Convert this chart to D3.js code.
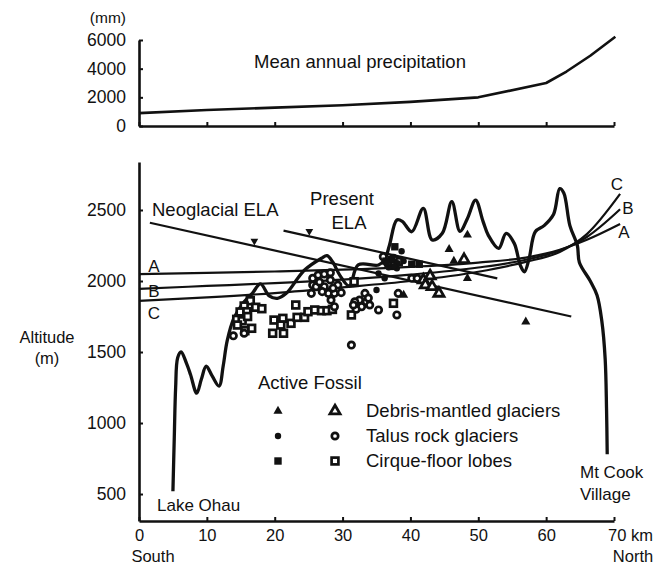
<!DOCTYPE html>
<html><head><meta charset="utf-8">
<script src="https://cdn.jsdelivr.net/npm/d3@7"></script>
<style>
body{margin:0;background:#fff;}
svg{display:block;background:#fff;}
text{font-family:"Liberation Sans",Arial,Helvetica,sans-serif;fill:#111;}
</style></head><body>
<svg id="c" width="659" height="566"></svg>
<script>
// ---- data ----
const kmTicks = [0,10,20,30,40,50,60,70];
const precipTicks = [0,2000,4000,6000];
const altTicks = [500,1000,1500,2000,2500];

const precipKm = [0,10,20,30,40,50,60,63,66.5,70.2];
const precipMm = [900,1120,1280,1450,1680,2000,3000,3800,4900,6230];

const topoKm  = [5.0,5.2,5.4,5.7,6.2,7.0,7.6,8.5,9.2,9.9,10.8,11.8,12.4,13.0,14.0,15.5,16.7,17.9,19.2,20.4,21.7,23.4,24.4,26.9,27.7,28.6,29.6,31.0,32.3,35.3,36.2,36.9,38.0,38.8,40.2,41.9,43.2,44.7,46.1,47.3,48.4,49.6,50.7,51.5,53.0,54.1,55.3,56.2,56.8,57.5,58.4,59.7,61.1,62.0,62.6,63.5,64.6,64.9,66.5,67.5,68.2,68.7,68.9,69.0];
const topoAlt = [520,900,1250,1460,1500,1420,1340,1210,1310,1400,1330,1260,1400,1580,1740,1854,1913,1980,1895,1878,1913,2019,2077,2160,2178,2130,2040,1965,2113,2113,2150,2250,2430,2420,2347,2512,2289,2336,2559,2350,2440,2570,2420,2320,2230,2336,2265,2110,2065,2160,2347,2390,2470,2650,2620,2390,2250,2130,2000,1900,1720,1450,1100,780];

const lineKm = [0,10,20,30,40,50,57,62,66,70.9];
const lineA = [2049,2057,2067,2080,2100,2130,2165,2220,2290,2401];
const lineB = [1945,1965,1985,2010,2045,2095,2150,2215,2310,2505];
const lineC = [1860,1885,1915,1955,2000,2065,2135,2205,2330,2613];

const neoELA = [[1.6,2410],[63.7,1750]];
const presentELA = [[21.3,2355],[52.8,2019]];

const activeDebris = [[45.7,2223],[48.4,2324],[46.4,2140],[48.4,2019],[57.0,1713],[39.0,1901]];
const fossilDebris = [[41.9,2007],[42.9,2035],[42.2,1972],[43.2,1960],[44.2,1913],[47.9,2150]];
const activeTalus = [[35.0,1937],[38.7,2210],[36.8,2097],[38.0,2089],[35.3,2054],[36.2,2019],[38.1,2125],[36.5,2125],[37.6,2105],[39.0,2140]];
const fossilTalus = [[25.6,2019],[26.4,2042],[27.3,2049],[28.2,2058],[25.6,1972],[26.1,1960],[25.4,1913],[27.3,1960],[28.2,2007],[29.3,1972],[27.9,1913],[28.8,1913],[29.8,1918],[28.3,1866],[28.8,1819],[26.6,1993],[28.6,1950],[27.0,1925],
  [33.3,1913],[32.5,1866],[33.5,1854],[31.8,1854],[32.8,1819],[32.0,1801],[34.0,1831],[35.3,1796],[38.2,1913],[38.0,1761],[31.3,1549],[31.6,1831],[33.8,1880],
  [36.0,2171],[37.5,2160],[36.7,2120],[40.2,2019],[41.0,2019],[13.9,1614],[15.5,1632]];
const activeCirque = [[37.7,2241],[37.2,2153],[40.2,2118],[41.3,2118],[36.4,2140]];
const fossilCirque = [[16.4,1861],[15.5,1824],[17.2,1815],[18.1,1805],[14.9,1782],[15.9,1784],[14.4,1730],[15.2,1720],[14.5,1690],[16.6,1667],[15.6,1650],[16.0,1750],
  [19.7,1632],[21.3,1632],[19.9,1725],[21.2,1737],[20.9,1690],[22.4,1702],[23.3,1744],[23.1,1831],[24.4,1744],[24.9,1784],[25.9,1796],[26.9,1791],[27.7,1791],[28.5,1800],
  [31.3,1761],[37.5,1843],[31.7,1995],[38.2,2136],[37.2,2110]];

// ---- scales ----
const svg = d3.select("#c");
const x = d3.scaleLinear().domain([0,70]).range([139,614]);
const yP = d3.scaleLinear().domain([0,6000]).range([126,40]);
const yA = d3.scaleLinear().domain([310,2838]).range([521,162]);

function styleAxis(g, fs){
  g.select(".domain").attr("stroke","#111").attr("stroke-width",2.6);
  g.selectAll(".tick line").attr("stroke","#111").attr("stroke-width",2);
  g.selectAll(".tick text").attr("font-size",fs||17.5).attr("fill","#111")
    .attr("font-family",'"Liberation Sans",Arial,sans-serif');
}

// ---- top panel ----
svg.append("g").attr("transform","translate(139,0)")
  .call(d3.axisLeft(yP).tickValues(precipTicks).tickSizeInner(-4).tickSizeOuter(0).tickPadding(13).tickFormat(d3.format("d")))
  .call(styleAxis);
svg.append("g").attr("transform","translate(0,126)")
  .call(d3.axisBottom(x).tickValues(kmTicks).tickSizeInner(-4).tickSizeOuter(0).tickFormat(""))
  .call(styleAxis);
svg.append("text").attr("x",126).attr("y",23).attr("text-anchor","end").attr("font-size",15.5).text("(mm)");
svg.append("text").attr("x",360).attr("y",68).attr("text-anchor","middle").attr("font-size",18.5).text("Mean annual precipitation");

const pline = d3.line().x((d,i)=>x(precipKm[i])).y(d=>yP(d));
svg.append("path").attr("d",pline(precipMm)).attr("fill","none").attr("stroke","#111").attr("stroke-width",2.6).attr("stroke-linejoin","round");

// ---- main panel axes ----
svg.append("g").attr("transform","translate(139,0)")
  .call(d3.axisLeft(yA).tickValues(altTicks).tickSizeInner(-4).tickSizeOuter(0).tickPadding(13).tickFormat(d3.format("d")))
  .call(styleAxis);
svg.append("g").attr("transform","translate(0,521)")
  .call(d3.axisBottom(x).tickValues(kmTicks).tickSizeInner(-4).tickSizeOuter(0).tickPadding(8)
    .tickFormat(d=> d===70 ? "" : d))
  .call(g=>styleAxis(g,16.5));
svg.append("text").attr("x",x(70)-6).attr("y",521+8).attr("dy","0.71em").attr("font-size",16.5).text("70 km");
svg.append("text").attr("x",153).attr("y",562).attr("text-anchor","middle").attr("font-size",16.5).text("South");
svg.append("text").attr("x",633).attr("y",562).attr("text-anchor","middle").attr("font-size",16.5).text("North");
svg.append("text").attr("x",47).attr("y",343).attr("text-anchor","middle").attr("font-size",16.5).text("Altitude");
svg.append("text").attr("x",47).attr("y",364).attr("text-anchor","middle").attr("font-size",16.5).text("(m)");

// ---- lines ----
const ln = d3.line().x(d=>x(d[0])).y(d=>yA(d[1]));
svg.append("path").attr("d",ln(neoELA)).attr("fill","none").attr("stroke","#111").attr("stroke-width",2.2);
svg.append("path").attr("d",ln(presentELA)).attr("fill","none").attr("stroke","#111").attr("stroke-width",2.2);

const curveLine = d3.line().x((d,i)=>x(lineKm[i])).y(d=>yA(d)).curve(d3.curveMonotoneX);
[lineA,lineB,lineC].forEach(L=>{
  svg.append("path").attr("d",curveLine(L)).attr("fill","none").attr("stroke","#111").attr("stroke-width",2.2);
});

const topo = d3.line().x((d,i)=>x(topoKm[i])).y(d=>yA(d)).curve(d3.curveCatmullRom.alpha(0.5));
svg.append("path").attr("d",topo(topoAlt)).attr("fill","none").attr("stroke","#111").attr("stroke-width",3.3).attr("stroke-linejoin","round");

// ELA arrowheads
function arrowOn(seg, km){
  const t=(km-seg[0][0])/(seg[1][0]-seg[0][0]);
  const alt=seg[0][1]+t*(seg[1][1]-seg[0][1]);
  svg.append("path").attr("d",d3.symbol().type(d3.symbolTriangle).size(26)())
    .attr("transform",`translate(${x(km)},${yA(alt)-5}) rotate(180)`).attr("fill","#111");
}
arrowOn(neoELA,17.0);
arrowOn(presentELA,25.1);

// line labels
const lab = (t,xx,yy,anchor="middle",fs=17)=>svg.append("text").attr("x",xx).attr("y",yy).attr("text-anchor",anchor).attr("font-size",fs).text(t);
lab("A",154,272); lab("B",154,297); lab("C",154,319);
lab("C",617,190); lab("B",628,214); lab("A",624,238);
lab("Neoglacial ELA",152,216,"start",18.5);
lab("Present",342,205,"middle",18.5);
lab("ELA",349,229,"middle",18.5);
lab("Lake Ohau",157,511,"start",17);
lab("Mt Cook",580,478,"start",17);
lab("Village",580,500,"start",17);

// ---- symbols ----
function sym(type, filled, cx, cy){
  const g = svg.append("g").attr("transform",`translate(${cx},${cy})`);
  if(type==="tri"){
    if(filled) g.append("path").attr("d",d3.symbol().type(d3.symbolTriangle).size(36)()).attr("fill","#111");
    else g.append("path").attr("d",d3.symbol().type(d3.symbolTriangle).size(44)()).attr("fill","#fff").attr("stroke","#111").attr("stroke-width",2.8).attr("stroke-linejoin","miter");
  } else if(type==="cir"){
    if(filled) g.append("circle").attr("r",3.2).attr("fill","#111");
    else g.append("circle").attr("r",3.2).attr("fill","#fff").attr("stroke","#111").attr("stroke-width",2.7);
  } else {
    if(filled) g.append("rect").attr("x",-3.7).attr("y",-3.7).attr("width",7.4).attr("height",7.4).attr("fill","#111");
    else g.append("rect").attr("x",-3.4).attr("y",-3.4).attr("width",6.8).attr("height",6.8).attr("fill","#fff").attr("stroke","#111").attr("stroke-width",2.7);
  }
}
fossilCirque.forEach(d=>sym("sq",false,x(d[0]),yA(d[1])));
fossilTalus.forEach(d=>sym("cir",false,x(d[0]),yA(d[1])));
fossilDebris.forEach(d=>sym("tri",false,x(d[0]),yA(d[1])));
activeCirque.forEach(d=>sym("sq",true,x(d[0]),yA(d[1])));
activeTalus.forEach(d=>sym("cir",true,x(d[0]),yA(d[1])));
activeDebris.forEach(d=>sym("tri",true,x(d[0]),yA(d[1])));

// ---- legend ----
lab("Active Fossil",258,389,"start",18.5);
const legRows = [["tri","Debris-mantled glaciers",411],["cir","Talus rock glaciers",436],["sq","Cirque-floor lobes",461]];
legRows.forEach(r=>{
  sym(r[0],true,278,r[2]);
  sym(r[0],false,335,r[2]);
  lab(r[1],366,r[2]+6,"start",18.5);
});
</script>
</body></html>
